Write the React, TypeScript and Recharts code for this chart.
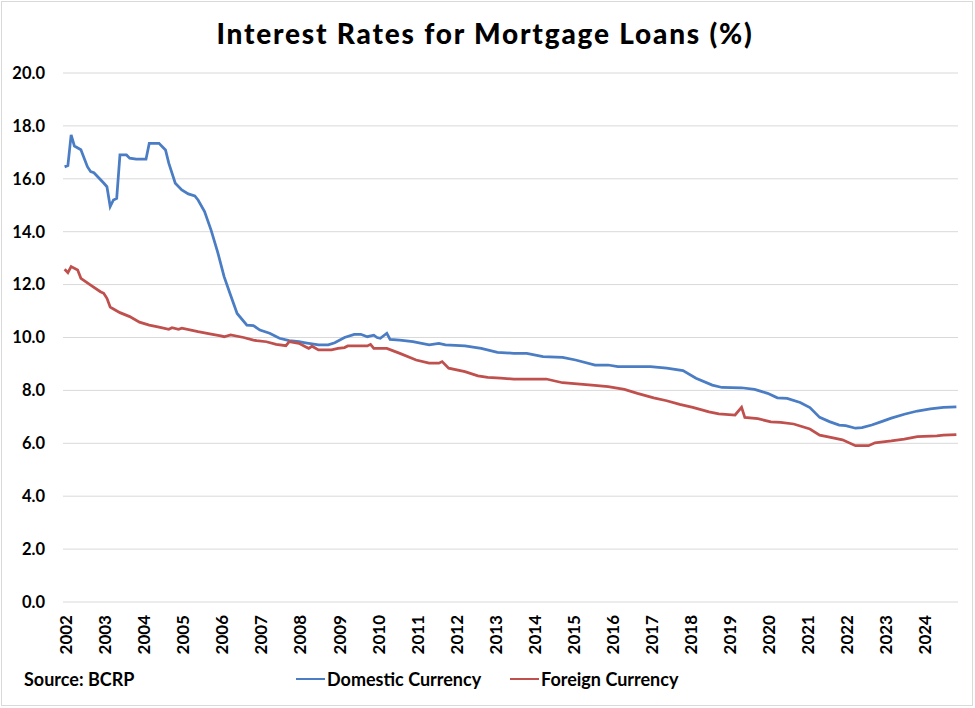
import { LineChart, Line, XAxis, YAxis, CartesianGrid } from 'recharts';

// months counted from Jan 2002 (0) to Nov 2024 (274)
const domesticMonths = [
  0, 1, 2, 3, 5, 7, 8, 9, 12, 13, 14, 15, 16, 17, 19, 20, 22, 25, 26, 29,
  31, 32, 34, 36, 38, 40, 41, 43, 45, 47, 49, 51, 53, 56, 58, 60, 63, 66, 69, 72,
  74, 78, 81, 83, 86, 89, 91, 93, 95, 96, 97, 99, 100, 103, 107, 112, 115, 117, 123, 128,
  133, 138, 142, 147, 153, 157, 163, 167, 170, 180, 185, 190, 194, 199, 202, 208, 212, 216, 219, 222,
  226, 229, 232, 235, 238, 240, 243, 245, 248, 251, 254, 258, 262, 266, 270, 274,
];
const domesticRates = [
  16.45, 16.5, 17.66, 17.24, 17.1, 16.46, 16.27, 16.23, 15.84, 15.7, 14.95, 15.2, 15.26, 16.9, 16.9, 16.78, 16.74, 16.74, 17.34, 17.34,
  17.09, 16.59, 15.83, 15.58, 15.43, 15.35, 15.2, 14.76, 14.06, 13.24, 12.3, 11.6, 10.91, 10.47, 10.45, 10.28, 10.16, 9.97, 9.88, 9.84,
  9.8, 9.72, 9.72, 9.8, 10.0, 10.12, 10.12, 10.03, 10.09, 10.0, 9.97, 10.16, 9.93, 9.9, 9.84, 9.72, 9.78, 9.72, 9.68, 9.59,
  9.44, 9.4, 9.4, 9.28, 9.25, 9.15, 8.96, 8.96, 8.9, 8.9, 8.84, 8.75, 8.46, 8.2, 8.11, 8.1, 8.04, 7.89, 7.72, 7.7,
  7.54, 7.35, 6.98, 6.82, 6.69, 6.67, 6.57, 6.59, 6.69, 6.82, 6.95, 7.1, 7.22, 7.3, 7.36, 7.38,
];

const foreignMonths = [
  0, 1, 2, 4, 5, 8, 11, 12, 13, 14, 15, 17, 20, 23, 26, 29, 32, 33, 35, 36,
  41, 45, 48, 49, 51, 55, 58, 59, 62, 65, 68, 69, 72, 74, 75, 76, 78, 82, 84, 86,
  87, 93, 94, 95, 99, 103, 108, 112, 115, 116, 118, 123, 127, 130, 134, 138, 148, 153, 162, 167,
  172, 176, 181, 185, 189, 193, 198, 201, 206, 208, 209, 213, 217, 220, 224, 229, 232, 235, 239, 243,
  247, 249, 254, 258, 262, 268, 270, 274,
];
const foreignRates = [
  12.58, 12.45, 12.68, 12.55, 12.24, 11.98, 11.73, 11.67, 11.48, 11.15, 11.08, 10.94, 10.79, 10.58, 10.47, 10.39, 10.31, 10.37, 10.31, 10.35,
  10.22, 10.13, 10.06, 10.03, 10.1, 10.0, 9.9, 9.88, 9.84, 9.74, 9.69, 9.84, 9.78, 9.65, 9.59, 9.67, 9.53, 9.53, 9.59, 9.62,
  9.68, 9.68, 9.74, 9.59, 9.59, 9.4, 9.15, 9.03, 9.03, 9.09, 8.84, 8.71, 8.55, 8.49, 8.46, 8.43, 8.43, 8.29, 8.2, 8.14,
  8.04, 7.89, 7.72, 7.61, 7.47, 7.36, 7.19, 7.11, 7.07, 7.36, 6.98, 6.93, 6.81, 6.79, 6.73, 6.54, 6.31, 6.23, 6.13, 5.91,
  5.91, 6.02, 6.09, 6.16, 6.25, 6.28, 6.31, 6.33,
];

const yearLabels = [
  '2002', '2003', '2004', '2005', '2006', '2007', '2008', '2009', '2010', '2011', '2012', '2013',
  '2014', '2015', '2016', '2017', '2018', '2019', '2020', '2021', '2022', '2023', '2024',
];
const yTicks = [0, 2, 4, 6, 8, 10, 12, 14, 16, 18, 20];

const BLUE = '#4A7DC4';
const RED = '#C0504D';
const FONT = 'Lato, "Open Sans", sans-serif';

const domesticData = domesticMonths.map((m, i) => ({ m, v: domesticRates[i] }));
const foreignData = foreignMonths.map((m, i) => ({ m, v: foreignRates[i] }));
const xTicks = yearLabels.map((_, i) => i * 12);

function YearTick(props: any) {
  const { x, y, payload } = props;
  const label = yearLabels[Math.round(payload.value / 12)];
  return (
    <text
      x={x + 1}
      y={y}
      transform={`rotate(-90, ${x + 1}, ${y})`}
      textAnchor="end"
      dominantBaseline="central"
      fontFamily={FONT}
      fontWeight={700}
      fontSize={17}
      fill="#000"
    >
      {label}
    </text>
  );
}

function LegendItem({ color, label, left }: { color: string; label: string; left: number }) {
  return (
    <div style={{ position: 'absolute', left, top: 0, display: 'flex', alignItems: 'center' }}>
      <span style={{ width: 29, height: 2.5, background: color, display: 'inline-block', marginRight: 2 }} />
      <span>{label}</span>
    </div>
  );
}

export default function App() {
  return (
    <div style={{ position: 'absolute', left: 0, top: 0, width: 975, height: 708, background: '#fff', fontFamily: FONT }}>
      <div
        style={{
          position: 'absolute',
          left: 1,
          top: 1,
          width: 970,
          height: 703,
          border: '1px solid #d9d9d9',
        }}
      />
      <div
        style={{
          position: 'absolute',
          left: 0,
          top: 17,
          width: 970,
          textAlign: 'center',
          fontSize: 28,
          lineHeight: '32px',
          letterSpacing: 1.8,
          fontWeight: 900,
          color: '#000',
        }}
      >
        Interest Rates for Mortgage Loans (%)
      </div>

      <div style={{ position: 'absolute', left: 0, top: 0 }}>
        <LineChart width={975} height={708} margin={{ top: 73, right: 17, bottom: 0, left: 8 }}>
          <CartesianGrid vertical={false} stroke="#d9d9d9" strokeWidth={1} />
          <XAxis
            type="number"
            dataKey="m"
            domain={[-0.5, 274.5]}
            ticks={xTicks}
            interval={0}
            height={106}
            axisLine={false}
            tickLine={false}
            tickSize={0}
            tickMargin={13}
            tick={<YearTick />}
            allowDataOverflow
          />
          <YAxis
            type="number"
            domain={[0, 20]}
            ticks={yTicks}
            width={55}
            axisLine={false}
            tickLine={false}
            tickSize={0}
            tickMargin={18}
            tickFormatter={(v: number) => v.toFixed(1)}
            tick={{ fontFamily: FONT, fontWeight: 700, fontSize: 16.5, fill: '#000' }}
          />
          <Line
            data={domesticData}
            dataKey="v"
            type="linear"
            stroke={BLUE}
            strokeWidth={2.75}
            dot={false}
            isAnimationActive={false}
          />
          <Line
            data={foreignData}
            dataKey="v"
            type="linear"
            stroke={RED}
            strokeWidth={2.75}
            dot={false}
            isAnimationActive={false}
          />
        </LineChart>
      </div>

      <div
        style={{
          position: 'absolute',
          left: 0,
          top: 667,
          width: 975,
          height: 24,
          fontSize: 18,
          fontWeight: 700,
          lineHeight: '24px',
          color: '#000',
        }}
      >
        <div style={{ position: 'absolute', left: 24, top: 0 }}>Source: BCRP</div>
        <LegendItem color={BLUE} label="Domestic Currency" left={296} />
        <LegendItem color={RED} label="Foreign Currency" left={510} />
      </div>
    </div>
  );
}
